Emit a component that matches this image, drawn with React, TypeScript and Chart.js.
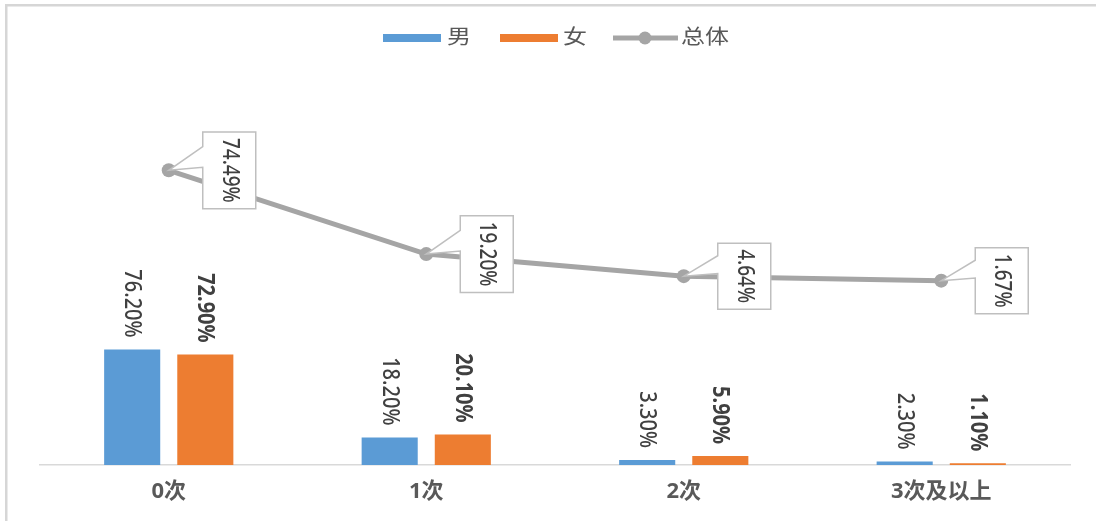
import React, { useEffect, useRef } from "react";
import { Chart, registerables } from "chart.js";

Chart.register(...registerables);

const categories = ["0次", "1次", "2次", "3次及以上"];
const seriesNames = ["男", "女", "总体"];
const maleValues = [76.2, 18.2, 3.3, 2.3];
const femaleValues = [72.9, 20.1, 5.9, 1.1];
const totalValues = [74.49, 19.2, 4.64, 1.67];

const BLUE = "#5b9bd5";
const ORANGE = "#ed7d31";
const GRAY = "#a5a5a5";
const TEXT_DARK = "#404040";
const TEXT_MID = "#595959";
const FAMILY = "'Noto Sans', 'Noto Sans CJK SC', sans-serif";
const SX = 1.2;

function drawText(
  ctx: CanvasRenderingContext2D,
  text: string,
  x: number,
  y: number,
  font: string,
  color: string,
  align: CanvasTextAlign,
  baseline: CanvasTextBaseline,
  rotate = 0
) {
  ctx.save();
  ctx.translate(x, y);
  ctx.scale(SX, 1);
  if (rotate) ctx.rotate(rotate);
  ctx.font = font;
  ctx.fillStyle = color;
  ctx.textAlign = align;
  ctx.textBaseline = baseline;
  ctx.fillText(text, 0, 0);
  ctx.restore();
}

const decorPlugin = {
  id: "decor",
  beforeDraw(chart: any) {
    const ctx: CanvasRenderingContext2D = chart.ctx;
    ctx.save();
    ctx.fillStyle = "#ffffff";
    ctx.fillRect(0, 0, chart.width, chart.height);
    ctx.fillStyle = "#d6d6d6";
    ctx.fillRect(5, 4, 2.5, chart.height);
    ctx.fillRect(5, 4, chart.width, 2.5);
    ctx.restore();
  },
  afterDatasetsDraw(chart: any) {
    const ctx: CanvasRenderingContext2D = chart.ctx;
    // bar labels
    [0, 1].forEach((di) => {
      const meta = chart.getDatasetMeta(di);
      const vals = chart.data.datasets[di].data as number[];
      meta.data.forEach((el: any, i: number) => {
        drawText(
          ctx,
          vals[i].toFixed(2) + "%",
          el.x,
          el.y - 12,
          (di === 1 ? "bold " : "500 ") + "20px " + FAMILY,
          TEXT_DARK,
          "right",
          "middle",
          Math.PI / 2
        );
      });
    });
    // callouts for line
    const lmeta = chart.getDatasetMeta(2);
    const lvals = chart.data.datasets[2].data as number[];
    lmeta.data.forEach((el: any, i: number) => {
      const text = lvals[i].toFixed(2) + "%";
      const font = "500 19px " + FAMILY;
      ctx.save();
      ctx.font = font;
      const w = ctx.measureText(text).width;
      ctx.restore();
      const boxW = 53;
      const boxH = w + 12;
      const bx = el.x + 34;
      const by = el.y - boxH / 2;
      const wt = by + 0.19 * boxH;
      const wb = by + 0.46 * boxH;
      ctx.save();
      ctx.beginPath();
      ctx.moveTo(bx, by);
      ctx.lineTo(bx + boxW, by);
      ctx.lineTo(bx + boxW, by + boxH);
      ctx.lineTo(bx, by + boxH);
      ctx.lineTo(bx, wb);
      ctx.lineTo(el.x, el.y);
      ctx.lineTo(bx, wt);
      ctx.closePath();
      ctx.fillStyle = "#ffffff";
      ctx.fill();
      ctx.strokeStyle = "#bfbfbf";
      ctx.lineWidth = 1.5;
      ctx.stroke();
      ctx.restore();
      drawText(ctx, text, bx + boxW / 2, el.y, font, TEXT_DARK, "center", "middle", Math.PI / 2);
    });
  },
  afterDraw(chart: any) {
    const ctx: CanvasRenderingContext2D = chart.ctx;
    const cy = 38;
    ctx.save();
    ctx.fillStyle = BLUE;
    ctx.fillRect(383, cy - 4, 58, 8);
    ctx.fillStyle = ORANGE;
    ctx.fillRect(500, cy - 4, 58, 8);
    ctx.strokeStyle = GRAY;
    ctx.lineWidth = 5;
    ctx.beginPath();
    ctx.moveTo(613, cy);
    ctx.lineTo(678, cy);
    ctx.stroke();
    ctx.fillStyle = GRAY;
    ctx.beginPath();
    ctx.arc(645, cy, 6.5, 0, Math.PI * 2);
    ctx.fill();
    ctx.restore();
    const f = "20px " + FAMILY;
    drawText(ctx, seriesNames[0], 447, cy, f, TEXT_MID, "left", "middle");
    drawText(ctx, seriesNames[1], 563, cy, f, TEXT_MID, "left", "middle");
    drawText(ctx, seriesNames[2], 681, cy, f, TEXT_MID, "left", "middle");
  },
};

export default function App() {
  const ref = useRef<HTMLCanvasElement>(null);
  useEffect(() => {
    const chart = new Chart(ref.current as HTMLCanvasElement, {
      type: "bar",
      data: {
        labels: categories,
        datasets: [
          {
            type: "bar",
            label: seriesNames[0],
            data: maleValues,
            backgroundColor: BLUE,
            yAxisID: "y",
            categoryPercentage: 0.568,
            barPercentage: 0.767,
            order: 2,
          },
          {
            type: "bar",
            label: seriesNames[1],
            data: femaleValues,
            backgroundColor: ORANGE,
            yAxisID: "y",
            categoryPercentage: 0.568,
            barPercentage: 0.767,
            order: 2,
          },
          {
            type: "line",
            label: seriesNames[2],
            data: totalValues,
            borderColor: GRAY,
            backgroundColor: GRAY,
            borderWidth: 5,
            pointRadius: 7,
            pointBackgroundColor: GRAY,
            pointBorderColor: GRAY,
            pointBorderWidth: 0,
            tension: 0,
            yAxisID: "y2",
            order: 1,
          } as any,
        ],
      },
      options: {
        animation: false,
        responsive: false,
        devicePixelRatio: 1,
        layout: { padding: { left: 40, right: 26, top: 70, bottom: 0 } },
        plugins: {
          legend: { display: false },
          tooltip: { enabled: false },
        },
        scales: {
          x: {
            grid: { display: false, drawTicks: false },
            border: { display: true, color: "#d9d9d9", width: 1.5 },
            ticks: {
              font: { size: 22, weight: "bold", family: FAMILY },
              color: TEXT_MID,
              padding: 14,
            },
            afterFit: (s: any) => {
              s.height = 56;
            },
          },
          y: { display: false, min: 0, max: 260.7 },
          y2: { display: false, min: -120, max: 140.7, position: "right" },
        },
      } as any,
      plugins: [decorPlugin],
    });
    return () => chart.destroy();
  }, []);
  return (
    <div style={{ position: "fixed", left: 0, top: 0, width: 1096, height: 521, background: "#fff" }}>
      <canvas ref={ref} width={1096} height={521} style={{ display: "block", width: 1096, height: 521 }} />
    </div>
  );
}
